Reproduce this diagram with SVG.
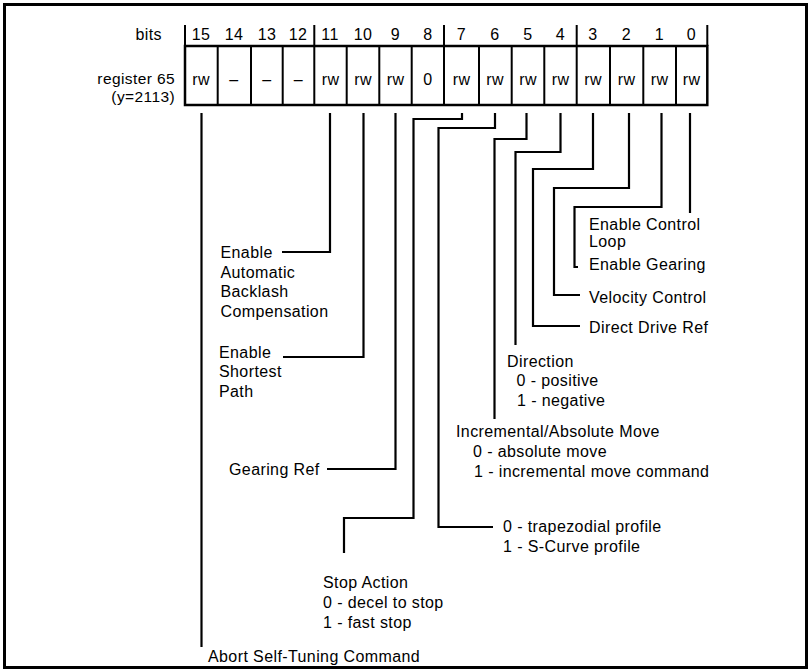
<svg xmlns="http://www.w3.org/2000/svg" width="811" height="672" viewBox="0 0 811 672">
<style>
text{font-family:"Liberation Sans",Arial,Helvetica,sans-serif;font-size:16px;fill:#000;letter-spacing:0.4px}
.m{text-anchor:middle}
.e{text-anchor:end}
.s{font-size:15.5px}
.ln{stroke:#000;stroke-width:2;fill:none}
.bx{stroke:#000;stroke-width:2.5;fill:none}
.cn path{stroke:#000;stroke-width:2.2;fill:none;stroke-linejoin:miter}
</style>
<rect x="4.5" y="4.5" width="802" height="663" fill="#fff" stroke="#000" stroke-width="3"/>

<g id="register">
  <text x="162" y="40" class="e">bits</text>
  <text x="175" y="84" class="e s">register 65</text>
  <text x="175" y="101.5" class="e s">(y=2113)</text>
  <g id="bit-ticks">
    <path class="ln" d="M185 25V46M314.3 25V46M444 25V46M576.7 25V46M707.3 25V46"/>
  </g>
  <rect class="bx" x="185" y="46" width="522.3" height="59"/>
  <path class="ln" d="M217.7 46V105M251 46V105M282.7 46V105M314.3 46V105M346.7 46V105M379.3 46V105M411.7 46V105M444 46V105M479 46V105M511.7 46V105M544.3 46V105M576.7 46V105M610 46V105M643.3 46V105M676 46V105"/>
  <g id="bit-numbers">
    <text x="201" y="40" class="m">15</text>
    <text x="234" y="40" class="m">14</text>
    <text x="267" y="40" class="m">13</text>
    <text x="298" y="40" class="m">12</text>
    <text x="330" y="40" class="m">11</text>
    <text x="363" y="40" class="m">10</text>
    <text x="395.5" y="40" class="m">9</text>
    <text x="428" y="40" class="m">8</text>
    <text x="461.5" y="40" class="m">7</text>
    <text x="495" y="40" class="m">6</text>
    <text x="528" y="40" class="m">5</text>
    <text x="560.5" y="40" class="m">4</text>
    <text x="593" y="40" class="m">3</text>
    <text x="626.5" y="40" class="m">2</text>
    <text x="659.5" y="40" class="m">1</text>
    <text x="691.5" y="40" class="m">0</text>
  </g>
  <g id="bit-values">
    <text x="201" y="85" class="m">rw</text>
    <text x="234" y="85" class="m">–</text>
    <text x="267" y="85" class="m">–</text>
    <text x="298.5" y="85" class="m">–</text>
    <text x="330.5" y="85" class="m">rw</text>
    <text x="363" y="85" class="m">rw</text>
    <text x="395.5" y="85" class="m">rw</text>
    <text x="428" y="85" class="m">0</text>
    <text x="461.5" y="85" class="m">rw</text>
    <text x="495" y="85" class="m">rw</text>
    <text x="528" y="85" class="m">rw</text>
    <text x="560.5" y="85" class="m">rw</text>
    <text x="593" y="85" class="m">rw</text>
    <text x="626.5" y="85" class="m">rw</text>
    <text x="659.5" y="85" class="m">rw</text>
    <text x="691.5" y="85" class="m">rw</text>
  </g>
</g>

<g id="connectors" class="cn">
  <path d="M201.5 113V647"/>
  <path d="M330 113V252H282"/>
  <path d="M363.5 113V357H283"/>
  <path d="M395.5 113V469H327"/>
  <path d="M462 113V119H413.5V518H344V553"/>
  <path d="M495 113V128H438.5V527H493"/>
  <path d="M526.5 113V139H494.5V419"/>
  <path d="M560.5 113V152H515.5V345"/>
  <path d="M593 113V169H533V326H580"/>
  <path d="M629 113V188H554V295H580"/>
  <path d="M661.5 113V207H574.5V267H578"/>
  <path d="M690 113V213"/>
</g>

<g id="label-bit11"><text x="220.5" y="258">Enable</text><text x="220.5" y="278">Automatic</text><text x="220.5" y="297">Backlash</text><text x="220.5" y="317">Compensation</text></g>
<g id="label-bit10"><text x="219" y="358">Enable</text><text x="219" y="377">Shortest</text><text x="219" y="397">Path</text></g>
<g id="label-bit9"><text x="229" y="475">Gearing Ref</text></g>
<g id="label-bit7"><text x="323" y="588">Stop Action</text><text x="323" y="608">0 - decel to stop</text><text x="323" y="628">1 - fast stop</text></g>
<g id="label-bit15"><text x="208" y="662">Abort Self-Tuning Command</text></g>
<g id="label-bit6"><text x="503" y="532">0 - trapezodial profile</text><text x="503" y="552">1 - S-Curve profile</text></g>
<g id="label-bit5"><text x="456" y="437">Incremental/Absolute Move</text><text x="473" y="457">0 - absolute move</text><text x="474" y="477">1 - incremental move command</text></g>
<g id="label-bit4"><text x="507" y="367">Direction</text><text x="516.5" y="386">0 - positive</text><text x="517" y="406">1 - negative</text></g>
<g id="label-bit3"><text x="589" y="333">Direct Drive Ref</text></g>
<g id="label-bit2"><text x="589" y="303">Velocity Control</text></g>
<g id="label-bit1"><text x="589" y="270">Enable Gearing</text></g>
<g id="label-bit0"><text x="589" y="230">Enable Control</text><text x="589" y="247">Loop</text></g>
</svg>
